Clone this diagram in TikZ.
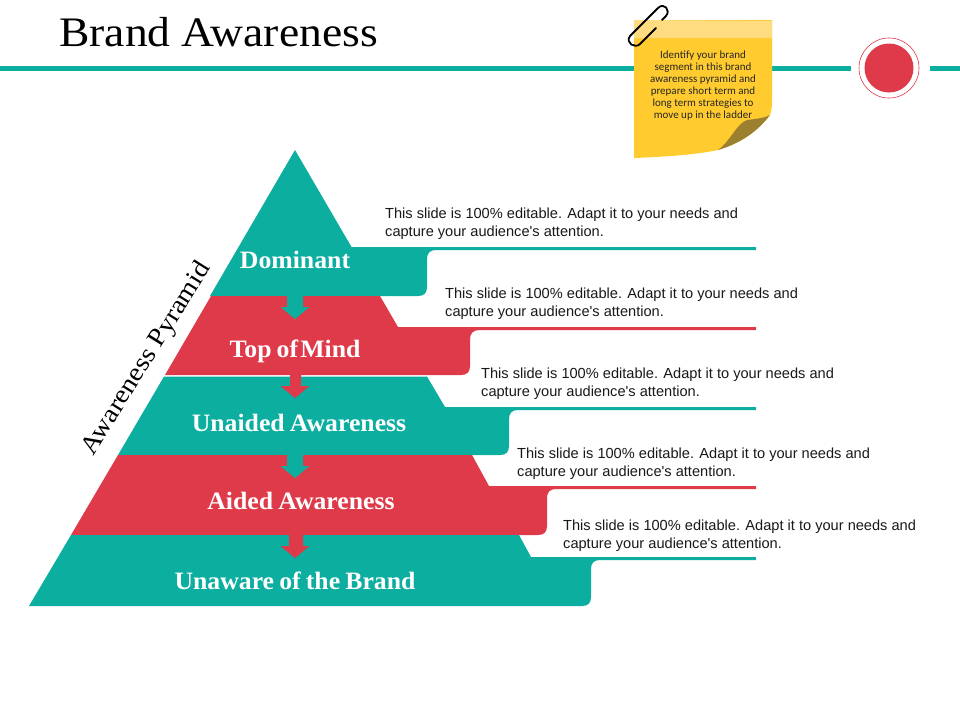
\documentclass[tikz,border=0pt]{standalone}
\usepackage{fontspec}
\setmainfont{Liberation Serif}
\newfontfamily\titlefont[FakeStretch=1.085]{Liberation Serif}
\newfontfamily\tierfont[FakeStretch=1.03,WordSpace=0.8]{Liberation Serif}
\newfontfamily\slidefont{Liberation Sans}
\newfontfamily\notefont{Carlito}
\usepackage{tikz}
\definecolor{tealtier}{HTML}{0BAE9F}
\definecolor{redtier}{HTML}{DF3A4A}
\definecolor{noteyellow}{HTML}{FFCB2F}
\definecolor{noteband}{HTML}{FFDC80}
\definecolor{notefold}{HTML}{9B8030}
\tikzset{
	tierlabel/.style={text=white, text height=21pt, text depth=5pt, inner sep=0pt, font=\tierfont\bfseries\fontsize{25}{28}\selectfont},
	slidetext/.style={anchor=west, align=left, text=black!90, inner sep=0pt, font=\slidefont\fontsize{14.6}{18.2}\selectfont},
}

\begin{document}
\begin{tikzpicture}[x=1pt, y=-1pt]
			\useasboundingbox (0,0) rectangle (960,720);
			\fill[white] (0,0) rectangle (960,720);
			% header line and title
			\fill[tealtier] (0,66) rectangle (634,71);
			\fill[tealtier] (772,66) rectangle (851,71);
			\fill[tealtier] (930,66) rectangle (960,71);
			\node[anchor=west, inner sep=0pt, font=\titlefont\fontsize{42}{46}\selectfont] (title) at (59,32) {Brand Awareness};
			\draw[redtier, line width=0.6pt] (889,68) circle (30);
			\fill[redtier] (889,68) circle (24.5);
			% note
			\fill[noteyellow] (634,20) -- (772,20) -- (772,103) .. controls (772,108) and (771,112) .. (770,115) .. controls (755,135) and (735,145) .. (718,150) .. controls (695,155) and (660,157) .. (634,158) -- cycle;
			\fill[noteband] (634,20) -- (772,21) -- (772,38) -- (634,38) -- cycle;
			\fill[notefold] (770,115) .. controls (755,135) and (735,145) .. (718,150) .. controls (730,142) and (736,124) .. (747,120) .. controls (755,119) and (765,118) .. (770,115) -- cycle;
			\node[align=center, text=black!85, inner sep=0pt, font=\notefont\fontsize{11}{12}\selectfont] (notetext) at (703,86) {Identify your brand\\segment in this brand\\awareness pyramid and\\prepare short term and\\long term strategies to\\move up in the ladder};
			\draw[black, line width=1.8pt, line cap=round, line join=round] (656,28) -- (640,44) .. controls (635,49) and (625,43) .. (630,36) -- (658,8) .. controls (664,2) and (671,10) .. (666,16) -- (662,20);
			% pyramid tiers
			\fill[tealtier] (295,150) -- (351.5,247) -- (756,247) -- (756,250) -- (436,250) .. controls (430,250) and (427,253) .. (427,259) -- (427,287) .. controls (427,293) and (424,296) .. (418,296) -- (210,296) -- cycle;
			\fill[redtier] (211,296) -- (380,296) -- (398,327) -- (756,327) -- (756,330) -- (480,330) .. controls (473,330) and (470,333) .. (470,340) -- (470,366) .. controls (470,372) and (467,375) .. (461,375) -- (165,375) -- cycle;
			\fill[tealtier] (164,376.5) -- (427,376.5) -- (445,407) -- (756,407) -- (756,410) -- (518,410) .. controls (512,410) and (509,413) .. (509,419) -- (509,446) .. controls (509,452) and (506,455) .. (500,455) -- (118,455) -- cycle;
			\fill[redtier] (118,455) -- (472,455) -- (489,486) -- (756,486) -- (756,489) -- (556,489) .. controls (550,489) and (547,492) .. (547,498) -- (547,526) .. controls (547,532) and (544,535) .. (538,535) -- (71,535) -- cycle;
			\fill[tealtier] (71,535) -- (519,535) -- (531,557) -- (756,557) -- (756,560) -- (600,560) .. controls (594,560) and (591,563) .. (591,569) -- (591,597) .. controls (591,603) and (588,606) .. (582,606) -- (29,606) -- cycle;
			% arrows between tiers
			\foreach \ytop/\shaftl/\shaftr/\tiercolor in {296/287/303/tealtier, 375/290/301/redtier, 455/287/303/tealtier, 535/289/303/redtier}
				\fill[\tiercolor] (\shaftl,\ytop) -- (\shaftr,\ytop) -- (\shaftr,\ytop+11) -- (309.5,\ytop+11) -- (295,\ytop+23) -- (280.5,\ytop+11) -- (\shaftl,\ytop+11) -- cycle;
			% tier labels
			\node[tierlabel] (dominant) at (295,260) {Dominant};
			\node[tierlabel] (topofmind) at (295,349) {Top of\hspace{-3pt} Mind};
			\node[tierlabel] (unaided) at (299,423) {Unaided Awareness};
			\node[tierlabel] (aided) at (301,501) {Aided Awareness};
			\node[tierlabel] (unaware) at (295,581) {Unaware of the Brand};
			\node[rotate=58, font=\titlefont\fontsize{25.8}{30}\selectfont] (pyramidname) at (147,359) {Awareness Pyramid};
			% texts beside the tiers
			\foreach \name/\x/\y in {textone/385/224, texttwo/445/304, textthree/481/384, textfour/517/464, textfive/563/536}
				\node[slidetext] (\name) at (\x,\y) {This slide is 100\% editable. Adapt it to your needs and\\capture your audience's attention.};
		\end{tikzpicture}
\end{document}
